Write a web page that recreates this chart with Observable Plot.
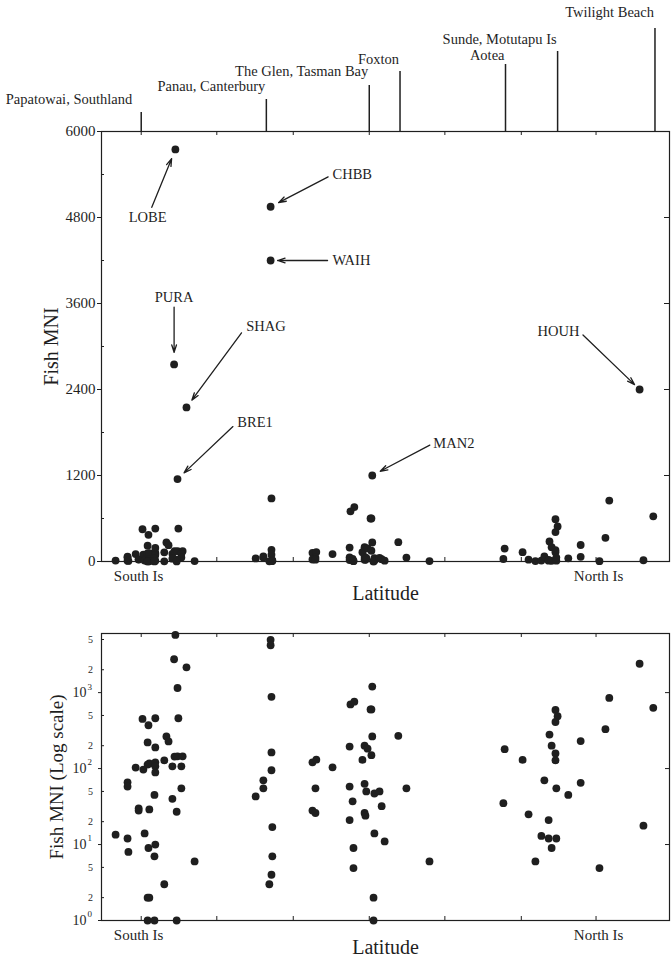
<!DOCTYPE html>
<html>
<head>
<meta charset="utf-8">
<script src="https://cdn.jsdelivr.net/npm/d3@7"></script>
<script src="https://cdn.jsdelivr.net/npm/@observablehq/plot@0.6"></script>
<style>
  html, body { margin: 0; padding: 0; background: #ffffff; }
  #chart svg { display: block; }
</style>
</head>
<body>
<div id="chart"></div>
<script>
// ---------------- DATA ----------------
// Latitude (degrees South) and fish MNI for each assemblage
const latitude = [
  47.16,46.88,46.86,46.88,46.88,46.69,46.62,46.62,46.53,46.51,46.48,46.41,46.41,46.39,46.39,46.37,46.37,46.41,46.37,46.41,
  46.25,46.23,46.23,46.23,46.23,46.23,46.23,46.25,46.25,46.02,46.02,45.97,45.92,45.83,45.83,45.78,45.71,45.59,45.62,45.62,
  45.69,45.73,45.73,45.76,45.79,45.71,45.50,45.31,
  43.88,43.70,43.70,43.53,43.53,43.51,43.51,43.51,43.49,43.49,43.51,43.56,
  42.55,42.46,42.48,42.55,42.48,42.08,
  41.68,41.68,41.68,41.66,41.57,41.61,41.59,41.59,41.38,41.33,41.33,41.33,41.31,41.29,41.26,41.19,41.17,41.17,41.15,41.15,
  41.10,41.10,41.12,41.12,40.98,40.93,40.86,40.54,40.35,39.81,
  38.08,38.05,37.63,37.49,37.33,37.19,37.12,37.02,37.02,37.00,36.95,36.95,36.86,36.81,36.86,36.86,36.86,36.84,36.84,36.56,
  36.27,36.27,35.83,35.69,35.60,34.89,34.80,34.57
];
const fishMNI = [
  13.5,12,8,66,58,103,30,28,450,97,14,113,221,372,9,117,29,2,2,1,
  1,460,190,121,107,89,10,45,7,128,3,265,228,107,40,144,145,145,107,55,
  460,27,1,5750,2750,1150,2150,6,
  43,70,55,4950,4200,880,163,95,17,7,4,3,
  121,131,55,28,26,104,
  195,58,21,700,760,37,9,4.9,130,200,63,26,24,50,183,600,600,150,265,1200,
  47,14,2,1,50,32,11,270,55,6,
  35,180,130,25,6,13,70,21,12,280,200,9,590,490,410,158,128,55,12,45,
  230,65,4.9,330,850,2400,17.7,630
];

// Named sites along the top
const siteNames = ["Papatowai, Southland","Panau, Canterbury","The Glen, Tasman Bay","Foxton","Aotea","Sunde, Motutapu Is","Twilight Beach"];
const siteLatitude = [46.56, 43.63, 41.22, 40.50, 38.03, 36.81, 34.53];

// Labelled assemblages (the point each arrow points to)
const noteNames = ["LOBE","CHBB","WAIH","PURA","SHAG","BRE1","MAN2","HOUH"];
const noteLatitude = [45.76, 43.53, 43.53, 45.79, 45.50, 45.71, 41.15, 34.89];
const noteMNI = [5750, 4950, 4200, 2750, 2150, 1150, 1200, 2400];

// Axis ticks and labels
const xTicks = [46.56, 44.79, 43.00, 41.22, 39.45, 37.66, 35.91];
const xDomain = [47.49, 34.19];
const linearTicks = [0, 1200, 2400, 3600, 4800, 6000];
const linearMinor = [600, 1800, 3000, 4200, 5400];
const logDecades = [1, 10, 100, 1000];
const logMinorLabels = [2, 5, 20, 50, 200, 500, 2000, 5000];
const islandNames = ["South Is", "North Is"];
const islandLatitude = [46.62, 35.85];

// ---------------- LAYOUT (positions / styles) ----------------
const siteTextOffset = [32, 45, 60, 72, 76, 92, 119];
const siteLineOffset = [19, 32, 46, 60, 67, 80, 103];
const siteTextDx = [-9, -1, -1, -1, -1, -1, -1];
// label anchor positions for annotations (data units) and text anchor
const noteLayout = [
  {lx: 46.41, ly: 4800, anchor: "middle", inS: 11, inE: 10},
  {lx: 42.08, ly: 5400, anchor: "start",  inS: 5,  inE: 9},
  {lx: 42.08, ly: 4200, anchor: "start",  inS: 5,  inE: 7},
  {lx: 45.79, ly: 3690, anchor: "middle", inS: 10, inE: 12},
  {lx: 44.10, ly: 3280, anchor: "start",  inS: 8,  inE: 9},
  {lx: 44.31, ly: 1940, anchor: "start",  inS: 6,  inE: 9},
  {lx: 39.72, ly: 1650, anchor: "start",  inS: 4,  inE: 9},
  {lx: 36.30, ly: 3210, anchor: "end",    inS: 5,  inE: 7}
];

const W = 672, ML = 101, MR = 3;
const FW = W - ML - MR;
const font = "'Liberation Serif', 'Times New Roman', serif";
const ink = "#1f1f1f";
const dotR = 3.9;

const points = latitude.map((lat, i) => ({lat, mni: fishMNI[i]}));
const sites = siteNames.map((name, i) => ({name, lat: siteLatitude[i]}));
const notes = noteNames.map((name, i) => ({name, lat: noteLatitude[i], mni: noteMNI[i], ...noteLayout[i]}));
const islands = islandNames.map((name, i) => ({name, lat: islandLatitude[i]}));

// ---------------- TOP (linear) ----------------
const H1 = 608, MT1 = 131, MB1 = 47;
const FH1 = H1 - MT1 - MB1;

const topMarks = [
  Plot.frame({stroke: ink, strokeWidth: 1.2}),
  Plot.axisY(linearTicks, {anchor: "left", tickSize: 4, tickPadding: 2, fontSize: 15, label: null, stroke: ink, fill: ink, tickFormat: d => String(d)}),
  Plot.ruleY(linearMinor, {y: d => d, insetRight: FW - 3, stroke: ink}),
  Plot.ruleY(linearTicks, {y: d => d, insetLeft: FW - 5, stroke: ink}),
  Plot.ruleX(xTicks, {x: d => d, insetBottom: FH1 - 4, stroke: ink}),
  Plot.ruleX(xTicks, {x: d => d, insetTop: FH1 - 4, stroke: ink})
];
sites.forEach((s, i) => {
  topMarks.push(Plot.ruleX([s], {x: "lat", insetTop: -siteLineOffset[i], insetBottom: FH1, stroke: ink, strokeWidth: 1.5}));
  topMarks.push(Plot.text([s], {x: "lat", text: "name", frameAnchor: "top", lineAnchor: "middle", dy: -siteTextOffset[i], dx: siteTextDx[i], textAnchor: "end", fontSize: 14.5, fill: ink}));
});
topMarks.push(Plot.dot(points, {x: "lat", y: "mni", r: dotR, fill: ink}));
notes.forEach(n => {
  topMarks.push(Plot.arrow([n], {x1: "lx", y1: "ly", x2: "lat", y2: "mni", insetStart: n.inS, insetEnd: n.inE, headLength: 9, headAngle: 35, strokeWidth: 1.3, stroke: ink}));
  topMarks.push(Plot.text([n], {x: "lx", y: "ly", text: "name", textAnchor: n.anchor, lineAnchor: "middle", fontSize: 14.5, fill: ink}));
});
topMarks.push(Plot.text(islands, {x: "lat", text: "name", frameAnchor: "bottom", lineAnchor: "middle", textAnchor: "middle", dy: 15, fontSize: 15, fill: ink}));
topMarks.push(Plot.text(["Fish MNI"], {text: d => d, frameAnchor: "left", textAnchor: "middle", lineAnchor: "middle", dx: -50, rotate: -90, fontSize: 20, fill: ink}));
topMarks.push(Plot.text(["Latitude"], {text: d => d, frameAnchor: "bottom", textAnchor: "middle", lineAnchor: "middle", dy: 32, fontSize: 20, fill: ink}));

const topPlot = Plot.plot({
  width: W, height: H1, marginTop: MT1, marginBottom: MB1, marginLeft: ML, marginRight: MR,
  style: {fontFamily: font, background: "white", color: ink},
  x: {domain: xDomain, axis: null},
  y: {domain: [0, 6000], axis: null},
  marks: topMarks
});

// ---------------- BOTTOM (log) ----------------
const H2 = 355, MT2 = 25, MB2 = 43;
const FH2 = H2 - MT2 - MB2;
const mantissa = d => Math.round(d / Math.pow(10, Math.floor(Math.log10(d) + 1e-9)));

const bottomPlot = Plot.plot({
  width: W, height: H2, marginTop: MT2, marginBottom: MB2, marginLeft: ML, marginRight: MR,
  style: {fontFamily: font, background: "white", color: ink},
  x: {domain: xDomain, axis: null},
  y: {type: "log", domain: [1, 6000], axis: null},
  marks: [
    Plot.frame({stroke: ink, strokeWidth: 1.2}),
    Plot.ruleY(logDecades, {y: d => d, insetRight: FW, insetLeft: -3, stroke: ink}),
    Plot.ruleY(logMinorLabels, {y: d => d, insetRight: FW - 3, stroke: ink}),
    Plot.ruleY(logDecades, {y: d => d, insetLeft: FW - 4, stroke: ink}),
    Plot.ruleX(xTicks, {x: d => d, insetBottom: FH2 - 4, stroke: ink}),
    Plot.ruleX(xTicks, {x: d => d, insetTop: FH2 - 4, stroke: ink}),
    Plot.text(logDecades, {y: d => d, text: () => "10", frameAnchor: "left", dx: -15, textAnchor: "end", lineAnchor: "middle", fontSize: 14, fill: ink}),
    Plot.text(logDecades, {y: d => d, text: d => String(Math.round(Math.log10(d))), frameAnchor: "left", dx: -14, dy: -6, textAnchor: "start", lineAnchor: "middle", fontSize: 9, fill: ink}),
    Plot.text(logMinorLabels, {y: d => d, text: d => String(mantissa(d)), frameAnchor: "left", dx: -11, textAnchor: "middle", lineAnchor: "middle", fontSize: 10, fill: ink}),
    Plot.dot(points, {x: "lat", y: "mni", r: dotR, fill: ink}),
    Plot.text(islands, {x: "lat", text: "name", frameAnchor: "bottom", lineAnchor: "middle", textAnchor: "middle", dy: 15, fontSize: 15, fill: ink}),
    Plot.text(["Fish MNI (Log scale)"], {text: d => d, frameAnchor: "left", textAnchor: "middle", lineAnchor: "middle", dx: -45, rotate: -90, fontSize: 19, fill: ink}),
    Plot.text(["Latitude"], {text: d => d, frameAnchor: "bottom", textAnchor: "middle", lineAnchor: "middle", dy: 27, fontSize: 20, fill: ink})
  ]
});

const chart = document.getElementById("chart");
chart.appendChild(topPlot);
chart.appendChild(bottomPlot);
</script>
</body>
</html>
